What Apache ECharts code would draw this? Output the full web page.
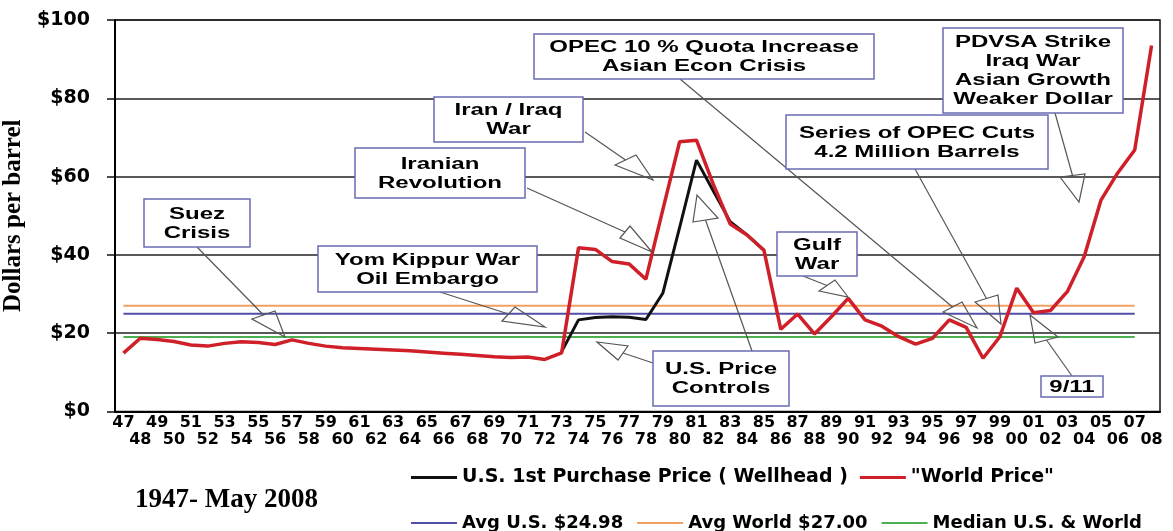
<!DOCTYPE html>
<html><head><meta charset="utf-8">
<script src="https://cdn.jsdelivr.net/npm/echarts@6/dist/echarts.min.js"></script>
<style>html,body{margin:0;padding:0;background:#fff}#c{width:1173px;height:531px}</style>
</head><body><div id="c"></div>
<script>
// ---- data ----
const years = ['47','48','49','50','51','52','53','54','55','56','57','58','59','60','61','62','63','64','65','66','67','68','69','70','71','72','73','74','75','76','77','78','79','80','81','82','83','84','85','86','87','88','89','90','91','92','93','94','95','96','97','98','99','00','01','02','03','04','05','06','07','08'];
const worldPrice = [14.9,18.7,18.4,17.9,17.0,16.7,17.4,17.8,17.6,17.1,18.3,17.4,16.7,16.3,16.1,15.9,15.7,15.5,15.2,14.9,14.6,14.3,14.0,13.8,13.9,13.3,15.0,41.8,41.4,38.3,37.7,33.8,51.5,68.9,69.3,58.0,47.9,45.1,41.2,21.0,24.9,19.8,24.2,28.9,23.4,21.8,19.1,17.2,18.7,23.4,21.5,13.6,19.1,31.5,25.2,25.8,30.6,39.5,54.0,61.0,66.8,93.5];
const usWellhead = [null,null,null,null,null,null,null,null,null,null,null,null,null,null,null,null,null,null,null,null,null,null,null,null,null,null,15.3,23.4,24.0,24.2,24.1,23.5,30.2,47.0,64.2,56.3,48.5,45.1,41.2,null,null,null,null,null,null,null,null,null,null,null,null,null,null,null,null,null,null,null,null,null,null,null];
const avgUS = 24.98;
const avgWorld = 27.00;
const medianUSWorld = 19.0;
const refSpan = ['47','07'];
const seriesNames = ['U.S. 1st Purchase Price ( Wellhead )','"World Price"','Avg U.S. $24.98','Avg World $27.00','Median U.S. & World'];

// ---- annotation layout (pixels) ----
const annotations = [
  {text:'Suez\nCrisis', box:[144,199,250,247], arrows:[{from:[197,247], head:[[252,319],[275,311],[285,337]]}]},
  {text:'Yom Kippur War\nOil Embargo', box:[318,246,537,292], arrows:[{from:[440,292], head:[[502,321],[515,307],[545,327]]}]},
  {text:'Iranian\nRevolution', box:[355,148,525,198], arrows:[{from:[527,188], head:[[620,238],[630,226],[652,252]]}]},
  {text:'Iran / Iraq\nWar', box:[434,97,583,142], arrows:[{from:[585,132], head:[[615,165],[636,155],[653,180]]}]},
  {text:'OPEC 10 % Quota Increase\nAsian Econ Crisis', box:[534,34,874,79], arrows:[{from:[680,79], head:[[943,312],[962,302],[977,328]]}]},
  {text:'Series of OPEC Cuts\n4.2 Million Barrels', box:[786,115,1048,169], arrows:[{from:[915,169], head:[[975,302],[998,295],[1001,324]]}]},
  {text:'Gulf\nWar', box:[777,232,857,276], arrows:[{from:[803,276], head:[[819,291],[835,280],[848,297]]}]},
  {text:'U.S. Price\nControls', box:[653,351,789,406], arrows:[
    {from:[653,363], head:[[628,346],[618,360],[597,342]]},
    {from:[752,351], head:[[693,222],[718,218],[697,195]]}]},
  {text:'PDVSA Strike\nIraq War\nAsian Growth\nWeaker Dollar', box:[943,28,1123,113], arrows:[{from:[1055,113], head:[[1060,177],[1085,174],[1079,202]]}]},
  {text:'9/11', box:[1041,376,1103,397], arrows:[{from:[1072,376], head:[[1035,343],[1058,337],[1030,315]]}]}
];

const graphics = [];
annotations.forEach(a => {
  a.arrows.forEach(ar => {
    const h = ar.head;
    const mid = [(h[0][0]+h[1][0])/2, (h[0][1]+h[1][1])/2];
    graphics.push({type:'polyline', z:99, shape:{points:[ar.from, mid]}, style:{stroke:'#555', lineWidth:1.2, fill:null}});
    graphics.push({type:'polygon', z:99, shape:{points:h}, style:{stroke:'#555', lineWidth:1.2, fill:'none'}});
  });
  const [x1,y1,x2,y2] = a.box;
  graphics.push({type:'rect', z:100, shape:{x:x1, y:y1, width:x2-x1, height:y2-y1}, style:{fill:'#fff', stroke:'#6b6bb5', lineWidth:1.5}});
  graphics.push({type:'text', z:101, x:(x1+x2)/2, y:(y1+y2)/2+1, scaleX:1.5,
    style:{text:a.text, fill:'#000', font:'bold 16px "Liberation Sans", Arial, sans-serif', fontSize:16, fontWeight:'bold', fontFamily:'"Liberation Sans", Arial, sans-serif',
      textAlign:'center', textVerticalAlign:'middle', align:'center', verticalAlign:'middle', lineHeight:19}});
});

const legendText1 = {fontFamily:'"DejaVu Sans", sans-serif', fontWeight:'bold', fontSize:19, color:'#000'};
const legendText2 = {fontFamily:'"DejaVu Sans", sans-serif', fontWeight:'bold', fontSize:18, color:'#000'};

const chart = echarts.init(document.getElementById('c'), null, {renderer:'canvas'});
chart.setOption({
  animation:false,
  backgroundColor:'#fff',
  title:{text:'1947- May 2008', left:130, top:482, textStyle:{fontFamily:'"Liberation Serif", "Times New Roman", serif', fontWeight:'bold', fontSize:27, color:'#000'}},
  legend:[
    {data:[seriesNames[0], seriesNames[1]], left:406, top:463, itemWidth:46, itemHeight:3, itemGap:12, icon:'rect', selectedMode:false, textStyle:legendText1},
    {data:[seriesNames[2], seriesNames[3], seriesNames[4]], left:406, top:509, itemWidth:46, itemHeight:2, itemGap:14, icon:'rect', selectedMode:false, textStyle:legendText2}
  ],
  grid:{left:115, right:13, top:20, bottom:119.5, containLabel:false, outerBoundsMode:'none', show:true, borderColor:'#111', borderWidth:1.5, backgroundColor:'transparent'},
  xAxis:{type:'category', data:years, boundaryGap:true,
    axisLine:{lineStyle:{color:'#000', width:2}},
    axisTick:{interval:0, alignWithLabel:true, length:6, lineStyle:{color:'#000', width:1.5}},
    axisLabel:{interval:0, margin:3, color:'#000', fontFamily:'"DejaVu Sans", sans-serif', fontWeight:'bold', fontSize:16, lineHeight:17,
      formatter:(v,i)=> i%2===0 ? v : '\n'+v},
    splitLine:{show:false}},
  yAxis:{type:'value', min:0, max:100, interval:20,
    name:'Dollars per barrel', nameLocation:'middle', nameRotate:90, nameGap:84,
    nameTextStyle:{fontFamily:'"Liberation Serif", "Times New Roman", serif', fontWeight:'bold', fontSize:25, color:'#000'},
    axisLine:{show:true, lineStyle:{color:'#000', width:2}},
    axisTick:{show:true, length:8, lineStyle:{color:'#111', width:1.5}},
    axisLabel:{margin:25, color:'#000', fontFamily:'"DejaVu Sans", sans-serif', fontWeight:'bold', fontSize:19, formatter:v=>'$'+v},
    splitLine:{show:true, lineStyle:{color:'#222', width:1.5}}},
  series:[
    {name:seriesNames[2], type:'line', symbol:'none', z:2, data:[[refSpan[0],avgUS],[refSpan[1],avgUS]], lineStyle:{color:'#4f4fa8', width:2}, itemStyle:{color:'#4f4fa8'}},
    {name:seriesNames[3], type:'line', symbol:'none', z:2, data:[[refSpan[0],avgWorld],[refSpan[1],avgWorld]], lineStyle:{color:'#f2a062', width:2}, itemStyle:{color:'#f2a062'}},
    {name:seriesNames[4], type:'line', symbol:'none', z:2, data:[[refSpan[0],medianUSWorld],[refSpan[1],medianUSWorld]], lineStyle:{color:'#4caf50', width:2}, itemStyle:{color:'#4caf50'}},
    {name:seriesNames[0], type:'line', symbol:'none', z:3, data:usWellhead, connectNulls:false, lineStyle:{color:'#111', width:3}, itemStyle:{color:'#111'}},
    {name:seriesNames[1], type:'line', symbol:'none', z:4, data:worldPrice, lineStyle:{color:'#cf1f28', width:3.5}, itemStyle:{color:'#cf1f28'}}
  ],
  graphic:graphics
});
</script></body></html>
